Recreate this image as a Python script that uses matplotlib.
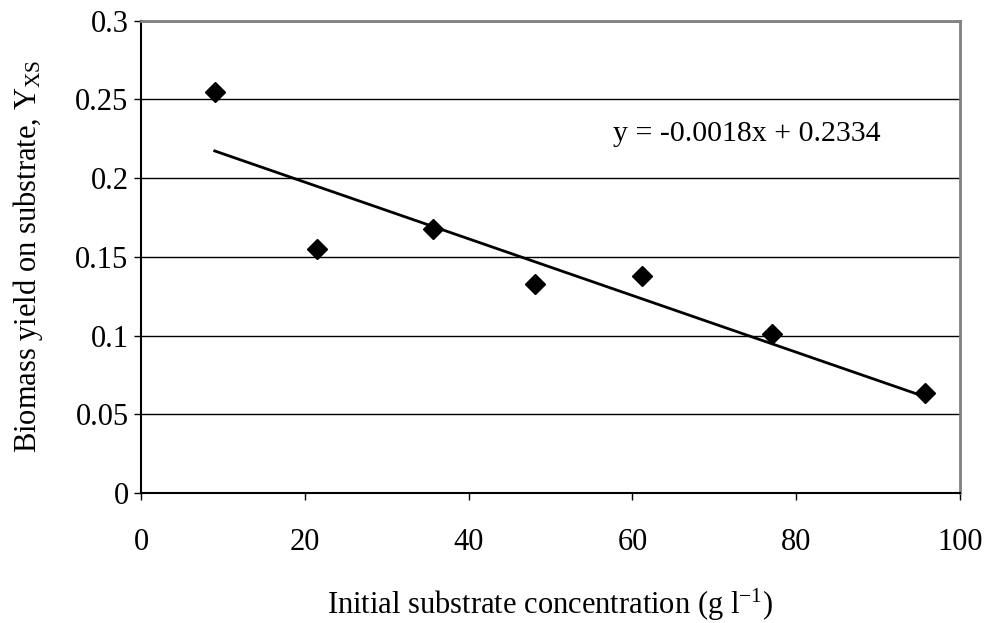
import matplotlib
matplotlib.use("Agg")
import matplotlib.pyplot as plt
import numpy as np

# Data
conc = [9.0, 21.5, 35.6, 48.1, 61.2, 77.1, 95.7]
yield_xs = [0.2545, 0.1548, 0.1679, 0.1326, 0.1376, 0.1007, 0.0635]
slope = -0.0018
intercept = 0.2334
eq_label = "y = -0.0018x + 0.2334"
x_ticks = [0, 20, 40, 60, 80, 100]
y_ticks = [0, 0.05, 0.1, 0.15, 0.2, 0.25, 0.3]
y_tick_labels = ["0", "0.05", "0.1", "0.15", "0.2", "0.25", "0.3"]

plt.rcParams['font.family'] = ['Liberation Serif', 'DejaVu Serif']
plt.rcParams['mathtext.fontset'] = 'custom'
plt.rcParams['mathtext.rm'] = 'Liberation Serif'
plt.rcParams['mathtext.it'] = 'Liberation Serif:italic'

fig = plt.figure(figsize=(9.89, 6.23), dpi=100)
ax = fig.add_axes([0.1426, 0.2087, 0.9707 - 0.1426, 0.967 - 0.2087])

ax.set_xlim(0, 100)
ax.set_ylim(0, 0.3)
ax.set_xticks(x_ticks)
ax.set_yticks(y_ticks)
ax.set_yticklabels(y_tick_labels)
ax.tick_params(axis='both', direction='out', length=5, width=1, labelsize=22, colors='black')
ax.tick_params(axis='x', pad=20)
ax.tick_params(axis='y', pad=4)

ax.grid(axis='y', color='black', linewidth=1)
ax.set_axisbelow(True)

for s in ['left', 'bottom']:
    ax.spines[s].set_color('black')
    ax.spines[s].set_linewidth(1.5)
for s in ['top', 'right']:
    ax.spines[s].set_color('#808080')
    ax.spines[s].set_linewidth(2)

xs = np.array([min(conc), max(conc)])
ax.plot(xs, slope * xs + intercept, color='black', linewidth=2, zorder=3)
ax.plot(conc, yield_xs, linestyle='none', marker='D', markersize=10,
        color='black', zorder=4)

ax.text(57.6, 0.2277, eq_label, fontsize=21.5, ha='left', va='center')

ax.set_xlabel("Initial substrate concentration (g l$^{\\mathregular{-1}}$)", fontsize=22, labelpad=22)
ax.set_ylabel("Biomass yield on substrate, Y$_{\\mathrm{XS}}$", fontsize=22, labelpad=22)

fig.savefig("out.png", dpi=100)
